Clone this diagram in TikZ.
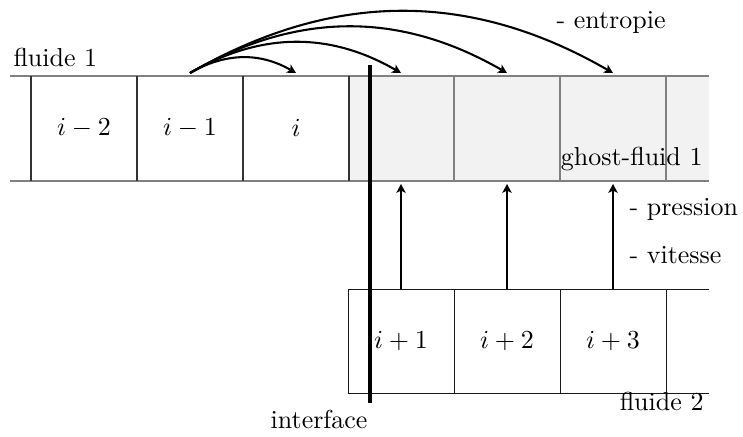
\documentclass[tikz,border=0pt]{standalone}
\usetikzlibrary{arrows.meta}
\begin{document}
\begin{tikzpicture}[x=0.385pt,y=-0.385pt,
  gridline/.style={black!50, line width=0.4pt},
  celldiv/.style={black!80, line width=0.4pt},
  botline/.style={black!90, line width=0.35pt},
  arr/.style={-{Stealth[length=3.4pt,width=3.6pt,inset=0.9pt]}, line width=0.8pt},
  lbl/.style={inner sep=0pt}]
\useasboundingbox (0,0) rectangle (743,436);
% ghost region
\fill[black!5] (349,76) rectangle (709,181);
% top strip
\draw[gridline] (10,76) -- (709,76);
\draw[gridline] (10,181) -- (709,181);
\foreach \x in {31,137,243,349} \draw[celldiv] (\x,76) -- (\x,181);
\foreach \x in {454,560,666} \draw[gridline] (\x,76) -- (\x,181);
% bottom strip
\draw[botline] (348,289) -- (709,289);
\draw[botline] (348,393) -- (709,393);
\foreach \x in {348,454,560,666} \draw[botline] (\x,289) -- (\x,393);
% cell labels
\node[lbl] (cm2) at (84,128) {$i-2$};
\node[lbl] (cm1) at (190,128) {$i-1$};
\node[lbl] (c0) at (296,128) {$i$};
\node[lbl] (cp1) at (401,341) {$i+1$};
\node[lbl] (cp2) at (507,341) {$i+2$};
\node[lbl] (cp3) at (613,341) {$i+3$};
% texts
\node[lbl, anchor=base west] (f1) at (13,66) {fluide 1};
\node[lbl, anchor=base east] (gf) at (703,165) {ghost-fluid 1};
\node[lbl, anchor=base west] (ent) at (556,28) {- entropie};
\node[lbl, anchor=base west] (pre) at (629,215) {- pression};
\node[lbl, anchor=base west] (vit) at (629,263) {- vitesse};
\node[lbl, anchor=base east] (f2) at (704,410) {fluide 2};
\node[lbl, anchor=base east] (itf) at (368,428) {interface};
% interface
\coordinate (ia) at (370,65);
\coordinate (ib) at (370,403);
\draw[line width=1.8pt] (ia) -- (ib);
% curved arrows
\coordinate (src) at (190,73);
\coordinate (t0) at (296,73);
\coordinate (t1) at (401,73);
\coordinate (t2) at (507,73);
\coordinate (t3) at (613,73);
\foreach \t in {t0,t1,t2,t3} \draw[arr] (src) to[out=30,in=150] (\t);
% vertical arrows
\coordinate (b1) at (401,289);
\coordinate (b2) at (507,289);
\coordinate (b3) at (613,289);
\coordinate (g1) at (401,184);
\coordinate (g2) at (507,184);
\coordinate (g3) at (613,184);
\draw[arr] (b1) -- (g1);
\draw[arr] (b2) -- (g2);
\draw[arr] (b3) -- (g3);
\end{tikzpicture}
\end{document}
